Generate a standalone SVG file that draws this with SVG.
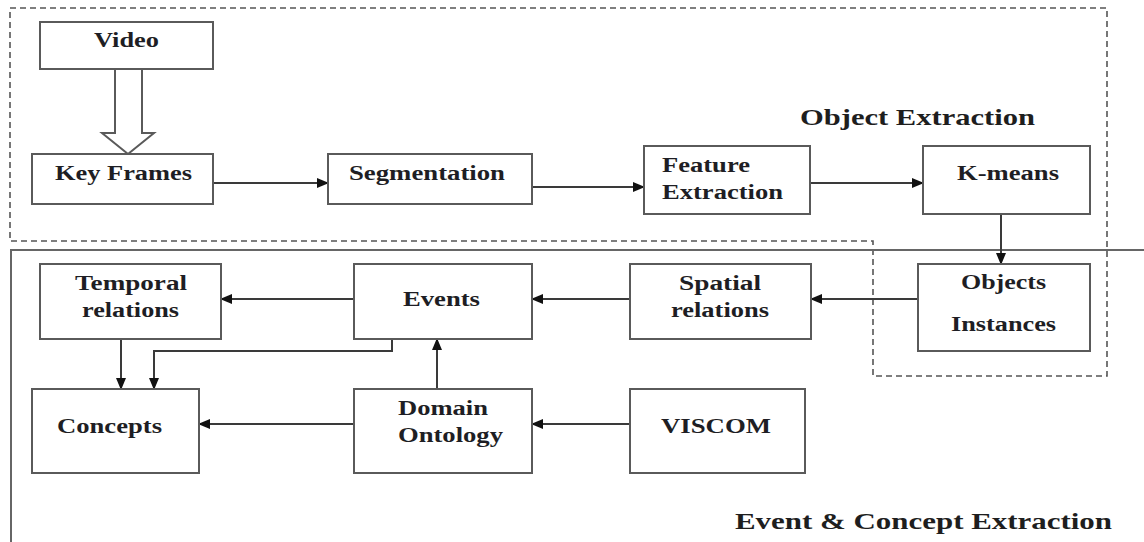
<svg xmlns="http://www.w3.org/2000/svg" width="1144" height="542" viewBox="0 0 1144 542">
  <style>
    .box { fill: #ffffff; stroke: #5a5a5a; stroke-width: 2; }
    .lbl { font-family: "Liberation Serif", "Times New Roman", serif; font-weight: bold; font-size: 20px; fill: #1e1e24; }
    .mid { text-anchor: middle; }
    .title { font-family: "Liberation Serif", "Times New Roman", serif; font-weight: bold; font-size: 24px; fill: #1e1e1e; }
    .edge { fill: none; stroke: #3a3a3a; stroke-width: 2; }
    .dash { fill: none; stroke: #555555; stroke-width: 1.6; stroke-dasharray: 6 4; }
    .frame { fill: none; stroke: #666666; stroke-width: 2; }
  </style>
  <defs>
    <marker id="arrow" markerWidth="12" markerHeight="10" refX="11" refY="5" orient="auto" markerUnits="userSpaceOnUse">
      <path d="M0,0 L12,5 L0,10 Z" fill="#111111"/>
    </marker>
  </defs>

  <rect width="1144" height="542" fill="#ffffff"/>

  <!-- region outlines -->
  <g id="regions">
    <path class="dash" d="M10,8 H1107 V376 H873 V241 H10 Z"/>
    <path class="frame" d="M1144,250 H11 V542"/>
    <text class="title" x="800" y="125" textLength="235" lengthAdjust="spacingAndGlyphs">Object Extraction</text>
    <text class="title" x="735" y="529" textLength="377" lengthAdjust="spacingAndGlyphs">Event &amp; Concept Extraction</text>
  </g>

  <!-- connectors -->
  <g id="connectors">
    <path class="box" d="M115,69 V133 H102 L128,154 L154,133 H142 V69"/>
    <path class="edge" marker-end="url(#arrow)" d="M213,183 H328"/>
    <path class="edge" marker-end="url(#arrow)" d="M532,187 H644"/>
    <path class="edge" marker-end="url(#arrow)" d="M810,183 H923"/>
    <path class="edge" marker-end="url(#arrow)" d="M1001,214 V264"/>
    <path class="edge" marker-end="url(#arrow)" d="M918,299 H811"/>
    <path class="edge" marker-end="url(#arrow)" d="M630,299 H532"/>
    <path class="edge" marker-end="url(#arrow)" d="M354,299 H221"/>
    <path class="edge" marker-end="url(#arrow)" d="M121,339 V389"/>
    <path class="edge" marker-end="url(#arrow)" d="M392,339 V351 H154 V389"/>
    <path class="edge" marker-end="url(#arrow)" d="M437,389 V339"/>
    <path class="edge" marker-end="url(#arrow)" d="M630,424 H532"/>
    <path class="edge" marker-end="url(#arrow)" d="M354,424 H199"/>
  </g>

  <!-- nodes -->
  <g id="video">
    <rect class="box" x="40" y="22" width="173" height="47"/>
    <text class="lbl mid" x="126.5" y="47" textLength="65" lengthAdjust="spacingAndGlyphs">Video</text>
  </g>
  <g id="key-frames">
    <rect class="box" x="32" y="154" width="181" height="50"/>
    <text class="lbl mid" x="123.5" y="180" textLength="137" lengthAdjust="spacingAndGlyphs">Key Frames</text>
  </g>
  <g id="segmentation">
    <rect class="box" x="328" y="154" width="204" height="50"/>
    <text class="lbl mid" x="427" y="180" textLength="156" lengthAdjust="spacingAndGlyphs">Segmentation</text>
  </g>
  <g id="feature-extraction">
    <rect class="box" x="644" y="146" width="166" height="68"/>
    <text class="lbl" x="662" y="172" textLength="88" lengthAdjust="spacingAndGlyphs">Feature</text>
    <text class="lbl" x="662" y="199" textLength="121" lengthAdjust="spacingAndGlyphs">Extraction</text>
  </g>
  <g id="k-means">
    <rect class="box" x="923" y="146" width="167" height="68"/>
    <text class="lbl mid" x="1008" y="180" textLength="102" lengthAdjust="spacingAndGlyphs">K-means</text>
  </g>
  <g id="objects-instances">
    <rect class="box" x="918" y="264" width="172" height="87"/>
    <text class="lbl mid" x="1003.5" y="289" textLength="85" lengthAdjust="spacingAndGlyphs">Objects</text>
    <text class="lbl mid" x="1003.5" y="331" textLength="105" lengthAdjust="spacingAndGlyphs">Instances</text>
  </g>
  <g id="spatial-relations">
    <rect class="box" x="630" y="264" width="181" height="75"/>
    <text class="lbl mid" x="720" y="290" textLength="82" lengthAdjust="spacingAndGlyphs">Spatial</text>
    <text class="lbl mid" x="720" y="317" textLength="98" lengthAdjust="spacingAndGlyphs">relations</text>
  </g>
  <g id="events">
    <rect class="box" x="354" y="264" width="178" height="75"/>
    <text class="lbl mid" x="441.5" y="306" textLength="77" lengthAdjust="spacingAndGlyphs">Events</text>
  </g>
  <g id="temporal-relations">
    <rect class="box" x="40" y="264" width="181" height="75"/>
    <text class="lbl mid" x="131" y="290" textLength="112" lengthAdjust="spacingAndGlyphs">Temporal</text>
    <text class="lbl mid" x="130.5" y="317" textLength="97" lengthAdjust="spacingAndGlyphs">relations</text>
  </g>
  <g id="concepts">
    <rect class="box" x="32" y="389" width="167" height="84"/>
    <text class="lbl mid" x="109.5" y="433" textLength="105" lengthAdjust="spacingAndGlyphs">Concepts</text>
  </g>
  <g id="domain-ontology">
    <rect class="box" x="354" y="389" width="178" height="84"/>
    <text class="lbl" x="398" y="415" textLength="90" lengthAdjust="spacingAndGlyphs">Domain</text>
    <text class="lbl" x="398" y="442" textLength="105" lengthAdjust="spacingAndGlyphs">Ontology</text>
  </g>
  <g id="viscom">
    <rect class="box" x="630" y="389" width="175" height="84"/>
    <text class="lbl mid" x="716" y="433" textLength="110" lengthAdjust="spacingAndGlyphs">VISCOM</text>
  </g>
</svg>
